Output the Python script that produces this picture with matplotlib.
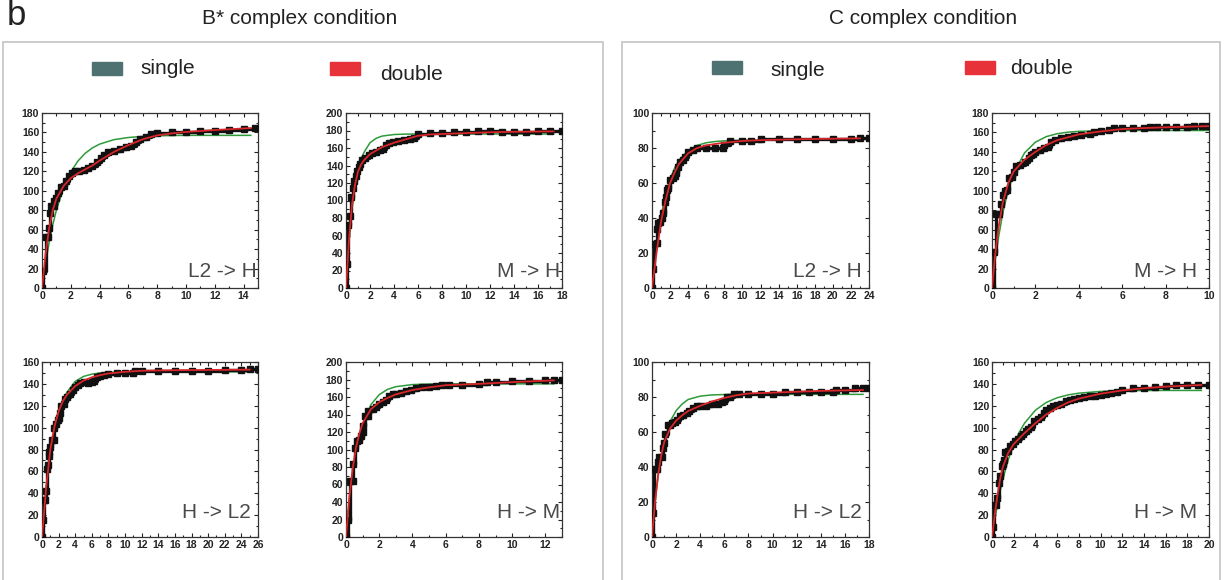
import matplotlib
matplotlib.use("Agg")
import matplotlib.pyplot as plt
from matplotlib.patches import Rectangle
from matplotlib.ticker import MultipleLocator

plt.rcParams['font.family'] = ['Liberation Sans', 'DejaVu Sans']

# ---- B* complex, L2 -> H ----
bs_l2h_x = [0, 0.1, 0.3, 0.4, 0.5, 0.55, 0.65, 0.8, 0.85, 1.0, 1.1, 1.3, 1.5, 1.7, 1.9, 2.1, 2.3, 2.6,
            2.9, 3.2, 3.5, 3.8, 4.1, 4.3, 4.6, 5.0, 5.4, 5.8, 6.2, 6.5, 6.8, 7.2, 7.6, 8.0, 9, 10, 11,
            12, 13, 14, 14.8]
bs_l2h_y = [0, 18, 52, 52, 62, 77, 84, 84, 90, 93, 98, 104, 105, 110, 115, 118, 120, 120, 121, 123,
            126, 130, 134, 137, 140, 141, 143, 145, 146, 150, 153, 155, 158, 159, 160, 160, 161, 162,
            163, 164, 165]
bs_l2h_fx = [0, 0.25, 0.5, 0.75, 1, 1.5, 2, 2.5, 3, 3.5, 4, 5, 6, 7, 8, 9, 10, 12, 14.5]
bs_l2h_dbl = [0, 35, 62, 80, 92, 105, 113, 118, 122, 126, 131, 140, 147, 153, 157, 159, 160.5, 162.5, 164.5]
bs_l2h_sgl = [0, 25.7, 47.1, 65.1, 80.1, 103.2, 119.4, 130.7, 138.6, 144.1, 148, 152.6, 154.8, 155.9,
              156.5, 156.8, 157, 157, 157]

# ---- B* complex, M -> H ----
bs_m2h_x = [0, 0.1, 0.2, 0.35, 0.45, 0.6, 0.7, 0.85, 0.95, 1.05, 1.2, 1.35, 1.6, 1.9, 2.2, 2.5, 2.8,
            3.1, 3.3, 3.6, 3.9, 4.3, 4.8, 5.3, 5.7, 6.0, 7, 8, 9, 10, 11, 12, 13, 14, 15, 16, 17, 18]
bs_m2h_y = [0, 28, 72, 82, 104, 114, 122, 128, 134, 138, 142, 146, 149, 152, 154, 156, 158, 159, 163,
            166, 167, 168, 169, 170, 172, 176, 177, 177, 178, 178, 179, 179, 178, 178, 178, 179, 180, 180]
bs_m2h_fx = [0, 0.25, 0.5, 0.75, 1, 1.25, 1.5, 2, 2.5, 3, 4, 5, 6, 7, 8, 10, 12, 14, 17.3]
bs_m2h_dbl = [0, 55, 95, 118, 133, 141, 146, 153, 157, 161, 166, 170, 174, 175.5, 176, 177, 178, 178.5, 179]
bs_m2h_sgl = [0, 53, 90, 115, 134, 147, 155, 166, 171, 173.6, 175.4, 175.9, 176, 176, 176, 176, 176, 176, 176]

# ---- C complex, L2 -> H ----
cs_l2h_x = [0, 0.15, 0.2, 0.5, 0.6, 0.7, 0.9, 1.1, 1.2, 1.4, 1.6, 1.7, 1.8, 2.0, 2.3, 2.5, 2.7, 2.9,
            3.1, 3.4, 3.7, 4.0, 4.5, 5, 6, 7, 7.8, 8.0, 8.6, 10, 11, 12, 14, 16, 18, 20, 22, 23, 24]
cs_l2h_y = [0, 11, 25, 26, 34, 37, 38, 40, 43, 49, 52, 56, 57, 62, 63, 64, 66, 69, 72, 73, 75, 78, 79,
            80, 80, 80, 80, 82, 84, 84, 84, 85, 85, 85, 85, 85, 85, 86, 86]
cs_l2h_fx = [0, 0.5, 1, 1.5, 2, 2.5, 3, 4, 5, 6, 7, 8, 10, 12, 16, 23]
cs_l2h_dbl = [0, 20, 38, 50, 60, 66, 71, 77, 80, 81.5, 82.3, 83, 84, 84.5, 85, 85.5]
cs_l2h_sgl = [0, 24, 41.2, 53.4, 62.2, 68.5, 73.1, 78.6, 81.5, 83, 83.7, 84.1, 84.4, 84.5, 84.5, 84.5]

# ---- C complex, M -> H ----
cs_m2h_x = [0, 0.1, 0.2, 0.3, 0.4, 0.5, 0.6, 0.7, 0.8, 0.9, 1.0, 1.1, 1.3, 1.5, 1.7, 1.8, 1.9, 2.0,
            2.2, 2.4, 2.6, 2.7, 2.9, 3.2, 3.5, 3.8, 4.1, 4.5, 4.7, 5.0, 5.4, 5.6, 6, 6.5, 7, 7.3, 7.6,
            8, 8.5, 9, 9.3, 9.7, 10]
cs_m2h_y = [0, 37, 76, 76, 86, 96, 100, 101, 113, 114, 119, 125, 127, 130, 134, 137, 138, 140, 142,
            144, 145, 150, 152, 154, 155, 156, 157, 158, 160, 162, 163, 165, 165, 165, 165, 166, 166,
            166, 166, 166, 167, 167, 167]
cs_m2h_fx = [0, 0.15, 0.3, 0.5, 0.75, 1, 1.5, 2, 2.5, 3, 3.5, 4, 5, 6, 7, 8, 10]
cs_m2h_dbl = [0, 35, 62, 88, 108, 120, 132, 140, 147, 152, 155, 158, 161, 163.5, 164.5, 165.3, 166.5]
cs_m2h_sgl = [0, 29, 52, 77.4, 101, 118, 139, 150, 155.7, 158.7, 160.3, 161.1, 161.8, 162, 162, 162, 162]

# ---- B* complex, H -> L2 ----
bs_h2l_x = [0, 0.1, 0.2, 0.4, 0.5, 0.6, 0.7, 0.8, 0.9, 1.0, 1.2, 1.4, 1.5, 1.7, 1.9, 2.1, 2.2, 2.3,
            2.6, 2.8, 3.0, 3.4, 3.7, 4.0, 4.3, 4.6, 5.0, 5.5, 6, 6.3, 6.6, 7, 7.5, 8, 9, 10, 10.9,
            11.2, 12, 14, 16, 18, 20, 22, 24, 25, 26]
bs_h2l_y = [0, 16, 34, 34, 42, 62, 66, 74, 78, 82, 89, 89, 100, 103, 107, 109, 113, 120, 122, 126,
            128, 131, 134, 137, 139, 141, 142, 141, 142, 143, 146, 147, 148, 149, 150, 150, 150, 152,
            152, 152, 152, 152, 152, 153, 153, 154, 154]
bs_h2l_fx = [0, 0.5, 1, 1.5, 2, 2.5, 3, 4, 5, 6, 7, 8, 10, 12, 16, 25]
bs_h2l_dbl = [0, 45, 80, 101, 115, 124, 130, 138, 143, 146, 148, 149.5, 151, 152, 152.5, 153]
bs_h2l_sgl = [0, 45, 77.5, 99.2, 114.3, 125, 132.4, 142.3, 146.8, 148.9, 150, 150.5, 151, 151, 151, 151]

# ---- B* complex, H -> M ----
bs_h2m_x = [0, 0.1, 0.25, 0.4, 0.45, 0.55, 0.65, 0.8, 0.9, 1.0, 1.05, 1.15, 1.3, 1.35, 1.6, 1.8,
            2.0, 2.2, 2.4, 2.6, 2.8, 3.0, 3.3, 3.6, 3.9, 4.2, 4.6, 5.0, 5.4, 5.8, 6.2, 7, 8, 8.5, 9,
            10, 11, 12, 12.5, 13]
bs_h2m_y = [0, 20, 64, 64, 83, 102, 110, 111, 116, 120, 127, 138, 138, 144, 146, 149, 152, 154, 157,
            161, 163, 164, 165, 167, 168, 170, 171, 172, 173, 174, 174, 174, 175, 177, 177, 178, 178,
            179, 180, 180]
bs_h2m_fx = [0, 0.2, 0.4, 0.6, 0.8, 1, 1.5, 2, 2.5, 3, 4, 5, 6, 8, 10, 12.5]
bs_h2m_dbl = [0, 45, 78, 102, 118, 130, 146, 154, 159, 163, 168, 171, 173.5, 175, 177, 179]
bs_h2m_sgl = [0, 40.9, 72.3, 96.4, 114.8, 128.8, 151.3, 162.7, 168.7, 171.8, 174.2, 174.8, 175, 175, 175, 175]

# ---- C complex, H -> L2 ----
cs_h2l_x = [0, 0.1, 0.2, 0.4, 0.5, 0.6, 0.8, 0.9, 1.0, 1.1, 1.3, 1.5, 1.7, 1.9, 2.1, 2.3, 2.6, 2.9,
            3.1, 3.4, 3.7, 4, 4.5, 5, 5.5, 5.8, 6.0, 6.2, 6.5, 6.8, 7.2, 8, 9, 10, 11, 12, 13, 14,
            15, 15.3, 16, 16.8, 17.5, 18]
cs_h2l_y = [0, 14, 39, 39, 43, 46, 46, 51, 54, 59, 64, 64, 65, 66, 67, 69, 70, 71, 72, 74, 75, 75,
            75, 76, 76, 77, 78, 80, 80, 82, 82, 82, 82, 82, 83, 83, 83, 83, 83, 84, 84, 85, 85, 85]
cs_h2l_fx = [0, 0.25, 0.5, 0.75, 1, 1.5, 2, 2.5, 3, 4, 5, 6, 7, 8, 10, 12, 14, 17.5]
cs_h2l_dbl = [0, 20, 35, 46, 54, 62, 66.5, 69.5, 72, 75, 77.5, 79.5, 81, 82, 82.5, 83, 83.5, 84]
cs_h2l_sgl = [0, 19.7, 34.8, 46.2, 54.7, 66, 72.2, 76, 78.6, 80.5, 81.2, 81.4, 81.5, 81.5, 81.5, 81.5,
              81.5, 81.5]

# ---- C complex, H -> M ----
cs_h2m_x = [0, 0.1, 0.2, 0.4, 0.5, 0.6, 0.7, 0.9, 1.0, 1.1, 1.2, 1.5, 1.7, 1.9, 2.1, 2.4, 2.7, 2.9,
            3.1, 3.3, 3.6, 3.9, 4.2, 4.5, 4.8, 5.0, 5.3, 5.6, 6, 6.4, 6.8, 7.2, 7.6, 8, 8.5, 9, 9.5,
            10, 10.5, 11, 11.5, 12, 13, 14, 15, 16, 17, 18, 19, 20]
cs_h2m_y = [0, 9, 29, 29, 36, 49, 56, 65, 67, 70, 78, 79, 83, 85, 88, 90, 92, 94, 97, 99, 101, 106,
            108, 110, 113, 116, 118, 120, 121, 122, 124, 125, 126, 127, 128, 129, 129, 130, 131, 132,
            133, 134, 136, 136, 137, 138, 139, 139, 139, 139]
cs_h2m_fx = [0, 0.25, 0.5, 0.75, 1, 1.5, 2, 2.5, 3, 4, 5, 6, 7, 8, 10, 12, 14, 16, 19.3]
cs_h2m_dbl = [0, 20, 38, 53, 64, 77, 85, 90, 95, 104, 112, 118, 123, 126.5, 131, 134, 136, 137.5, 139]
cs_h2m_sgl = [0, 15.7, 29.6, 41.9, 52.7, 70.7, 84.7, 95.6, 104.1, 115.9, 123, 127.3, 129.9, 131.5,
              133.1, 133.7, 133.9, 134, 134]

W, H = 1225, 580
fig = plt.figure(figsize=(W / 100, H / 100), dpi=100)

panels = [
    # pixel box (left, right, top, bottom), xmax, ymax, label, data
    ((42, 258, 113, 288), 15, 180, "L2 -> H", bs_l2h_x, bs_l2h_y, bs_l2h_fx, bs_l2h_dbl, bs_l2h_sgl),
    ((346, 562, 113, 288), 18, 200, "M -> H", bs_m2h_x, bs_m2h_y, bs_m2h_fx, bs_m2h_dbl, bs_m2h_sgl),
    ((652, 869, 113, 288), 24, 100, "L2 -> H", cs_l2h_x, cs_l2h_y, cs_l2h_fx, cs_l2h_dbl, cs_l2h_sgl),
    ((992, 1209, 113, 288), 10, 180, "M -> H", cs_m2h_x, cs_m2h_y, cs_m2h_fx, cs_m2h_dbl, cs_m2h_sgl),
    ((42, 258, 362, 537), 26, 160, "H -> L2", bs_h2l_x, bs_h2l_y, bs_h2l_fx, bs_h2l_dbl, bs_h2l_sgl),
    ((346, 562, 362, 537), 13, 200, "H -> M", bs_h2m_x, bs_h2m_y, bs_h2m_fx, bs_h2m_dbl, bs_h2m_sgl),
    ((652, 869, 362, 537), 18, 100, "H -> L2", cs_h2l_x, cs_h2l_y, cs_h2l_fx, cs_h2l_dbl, cs_h2l_sgl),
    ((992, 1209, 362, 537), 20, 160, "H -> M", cs_h2m_x, cs_h2m_y, cs_h2m_fx, cs_h2m_dbl, cs_h2m_sgl),
]
label_x = [0.995, 0.99, 0.965, 0.945, 0.965, 0.99, 0.965, 0.945]

for i, (box, xmax, ymax, lab, dx, dy, fx, dbl, sgl) in enumerate(panels):
    l, r, t, b = box
    ax = fig.add_axes([l / W, 1 - b / H, (r - l) / W, (b - t) / H])
    ax.plot(fx, sgl, color='#2e9a3a', lw=1.1, zorder=2)
    ax.plot(dx, dy, color='#111111', lw=2.4, drawstyle='steps-post', zorder=3)
    ax.plot(dx, dy, 's', color='#111111', ms=3.8, zorder=3)
    ax.plot(fx, dbl, color='#d8262a', lw=1.3, zorder=4)
    ax.set_xlim(0, xmax)
    ax.set_ylim(0, ymax)
    ax.xaxis.set_major_locator(MultipleLocator(2))
    ax.xaxis.set_minor_locator(MultipleLocator(1))
    ax.yaxis.set_major_locator(MultipleLocator(20))
    ax.yaxis.set_minor_locator(MultipleLocator(10))
    ax.tick_params(which='both', direction='in', top=True, right=True, labelsize=7.5,
                   pad=2, colors='#222222', width=0.8)
    ax.tick_params(which='major', length=3)
    ax.tick_params(which='minor', length=1.8)
    for tl in ax.get_xticklabels() + ax.get_yticklabels():
        tl.set_fontweight('bold')
    for s in ax.spines.values():
        s.set_color('#333333')
        s.set_linewidth(0.9)
    ly = 0.04 if i < 4 else 0.085
    ax.text(label_x[i], ly, lab, transform=ax.transAxes, ha='right', va='bottom',
            fontsize=15, color='#4a4a4a', zorder=6)

# panel frames
for x0, x1 in [(3, 603), (622, 1220)]:
    fig.add_artist(Rectangle((x0 / W, -0.05), (x1 - x0) / W, 1.05 - 42 / H,
                             transform=fig.transFigure, fill=False,
                             edgecolor='#c4c4c4', lw=1.2))

fig.text(7 / W, 1 - 25 / H, "b", fontsize=25, ha='left', va='baseline', color='#222222')
fig.text(300 / W, 1 - 18 / H, "B* complex condition", fontsize=15, ha='center', va='center', color='#222222')
fig.text(923 / W, 1 - 18 / H, "C complex condition", fontsize=15, ha='center', va='center', color='#222222')

# legend swatches
legend_items = [(92, 62, '#4e7272', 140, 68, "single"), (330, 62, '#e8323a', 380, 74, "double"),
                (712, 61, '#4e7272', 770, 70, "single"), (965, 61, '#e8323a', 1010, 68, "double")]
for sx, sy, c, tx, ty, txt in legend_items:
    fig.add_artist(Rectangle((sx / W, 1 - (sy + 13) / H), 30 / W, 13 / H,
                             transform=fig.transFigure, color=c))
    fig.text(tx / W, 1 - ty / H, txt, fontsize=15, ha='left', va='center', color='#222222')

fig.savefig("out.png", dpi=100)
